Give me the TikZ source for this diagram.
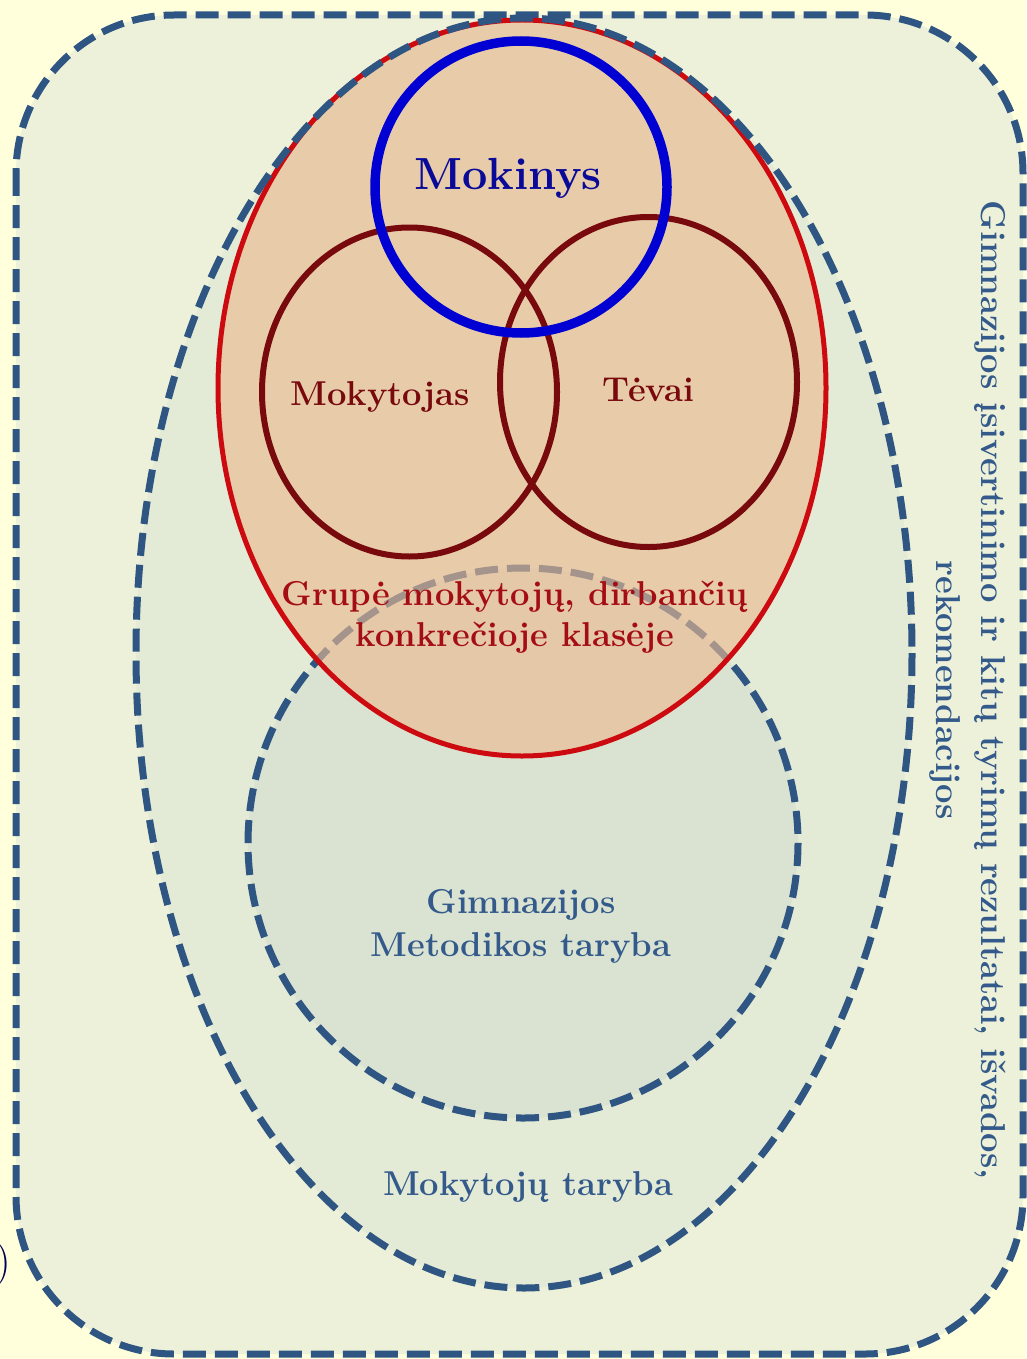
\documentclass[tikz,border=0pt]{standalone}
\usepackage{tikz}
\definecolor{bgyellow}{HTML}{FFFFDC}
\definecolor{outerfill}{HTML}{EDF1D9}
\definecolor{ellfill}{HTML}{E3EAD6}
\definecolor{circfill}{HTML}{DAE3D2}
\definecolor{dashblue}{HTML}{2F5583}
\definecolor{peach}{HTML}{EBB990}
\definecolor{redline}{HTML}{CC0A10}
\definecolor{darkred}{HTML}{780A0E}
\definecolor{mokblue}{HTML}{0000D2}
\definecolor{moktext}{HTML}{0A0A99}
\definecolor{grtext}{HTML}{A50D15}
\definecolor{gimtext}{HTML}{335A8A}
\definecolor{navy}{HTML}{000055}
\tikzset{
  dashline/.style={draw=dashblue, line width=7pt, dash pattern=on 23pt off 9pt},
  lbl/.style={font=\fontsize{34.5}{41}\selectfont\bfseries, align=center, inner sep=0pt},
}
\begin{document}
\begin{tikzpicture}[x=1pt,y=-1pt]
\useasboundingbox (0,0) rectangle (1026,1359);
\fill[bgyellow] (0,0) rectangle (1026,1359);
% outer rounded rectangle
\path[fill=outerfill, dashline, rounded corners=158pt] (16,15) rectangle (1023,1354);
% big ellipse fill
\fill[ellfill] (524,653) ellipse [x radius=388, y radius=635];
% Metodikos taryba circle
\path[fill=circfill, dashline] (523,843) circle [radius=275];
% red ellipse
\fill[peach, fill opacity=0.63] (522,388) ellipse [x radius=304, y radius=368];
\draw[redline, line width=5pt] (522,388) ellipse [x radius=304, y radius=368];
% big ellipse stroke
\draw[dashline] (524,653) ellipse [x radius=388, y radius=635];
% three circles
\draw[darkred, line width=6pt] (409.5,392) ellipse [x radius=147.5, y radius=164.5];
\draw[darkred, line width=6pt] (648.5,382) ellipse [x radius=148.5, y radius=165];
\draw[mokblue, line width=9.5pt] (521,187) circle [radius=146];
% labels
\node[lbl, text=moktext, font=\fontsize{45}{50}\selectfont\bfseries] (mokinys) at (508,178) {Mokinys};
\node[lbl, text=darkred] (mokytojas) at (380,397) {Mokytojas};
\node[lbl, text=darkred] (tevai) at (648,390) {Tėvai};
\node[lbl, text=grtext] (grupe) at (515,617) {Grupė mokytojų, dirbančių\\konkrečioje klasėje};
\node[lbl, text=gimtext, font=\fontsize{34.5}{43}\selectfont\bfseries] (metod) at (521,926) {Gimnazijos\\Metodikos taryba};
\node[lbl, text=gimtext] (mtaryba) at (528,1187) {Mokytojų taryba};
\node[lbl, text=gimtext, rotate=-90, font=\fontsize{34.5}{45}\selectfont\bfseries] (rez) at (968,690) {Gimnazijos įsivertinimo ir kitų tyrimų rezultatai, išvados,\\rekomendacijos};
\node[inner sep=0pt, anchor=east, text=navy, font=\fontsize{44}{50}\selectfont] (paren) at (11,1265) {)};
\end{tikzpicture}
\end{document}
